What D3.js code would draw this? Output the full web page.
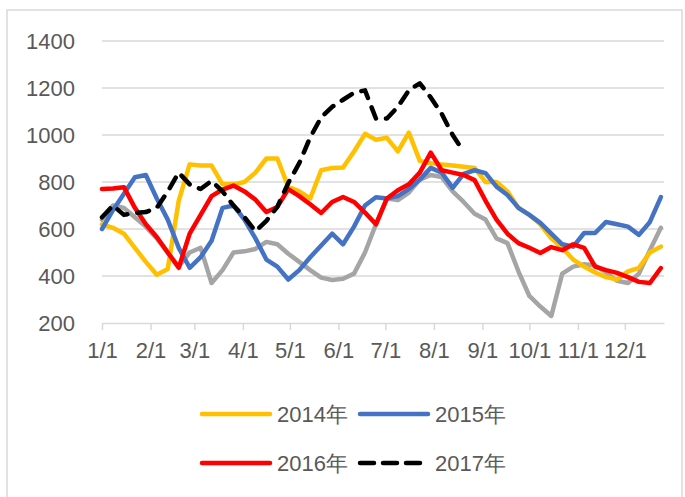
<!DOCTYPE html>
<html>
<head>
<meta charset="utf-8">
<script src="https://cdn.jsdelivr.net/npm/d3@7/dist/d3.min.js"></script>
<style>
  html, body { margin: 0; padding: 0; background: #fff; }
  svg { display: block; }
  text { font-family: "Liberation Sans", Arial, sans-serif; fill: #595959; }
</style>
</head>
<body>
<svg id="chart" width="685" height="497"></svg>
<script>
// ---- data (weekly observations) ----
const weeks = ["01-01","01-08","01-15","01-22","01-29","02-05","02-12","02-19","02-26",
  "03-05","03-12","03-19","03-26","04-02","04-09","04-16","04-23","04-30",
  "05-07","05-14","05-21","05-28","06-04","06-11","06-18","06-25",
  "07-02","07-09","07-16","07-23","07-30","08-06","08-13","08-20","08-27",
  "09-03","09-10","09-17","09-24","10-01","10-08","10-15","10-22","10-29",
  "11-05","11-12","11-19","11-26","12-03","12-10","12-17","12-24"];

const tickLabels = ["1/1","2/1","3/1","4/1","5/1","6/1","7/1","8/1","9/1","10/1","11/1","12/1"];
const yTicks = [200, 400, 600, 800, 1000, 1200, 1400];

const seriesNames = ["2014年", "2015年", "2016年", "2017年"];

const values2014 = [620,605,580,520,460,405,430,720,875,870,870,790,790,800,840,900,900,780,760,730,
  850,860,862,930,1005,980,988,930,1010,890,880,875,870,865,860,800,800,760,690,660,
  620,560,520,470,440,415,395,385,420,435,500,525];

const values2015 = [600,680,750,820,830,730,640,520,435,480,550,690,700,640,560,470,440,385,425,480,
  530,580,535,610,700,735,730,740,770,810,860,840,775,835,850,838,780,745,690,660,
  626,580,535,525,583,583,630,620,610,575,630,736];

const values2016 = [770,772,778,690,620,566,500,435,580,660,740,768,785,760,725,672,694,770,740,705,
  668,715,736,715,670,620,730,765,790,840,925,850,840,830,808,720,640,580,540,520,
  498,523,510,535,520,440,425,413,395,375,370,434];

const values2017 = [650,700,660,668,672,690,760,840,790,770,805,760,700,650,590,635,694,796,880,990,
  1075,1120,1150,1180,1190,1070,1070,1120,1190,1220,1160,1090,1000,930];

const valuesGrey = [640,700,690,650,610,560,500,440,500,520,370,425,500,505,515,545,535,495,460,425,
  393,383,388,410,500,620,730,723,755,810,830,821,760,715,665,640,560,540,420,315,
  270,230,410,440,450,445,415,380,370,410,510,605];

// ---- layout ----
const svg = d3.select("#chart");
const parse = d3.timeParse("%Y-%m-%d");
const dates = weeks.map(w => parse("2014-" + w));
const start = parse("2014-01-01");
const end = d3.timeDay.offset(start, 359);

const x = d3.scaleTime().domain([start, end]).range([102, 664]);
const y = d3.scaleLinear().domain([200, 1400]).range([323, 41]);
const FONT = "22px";

// outer frame
svg.append("rect").attr("x", 7).attr("y", 10).attr("width", 675).attr("height", 500)
  .attr("fill", "none").attr("stroke", "#d9d9d9").attr("stroke-width", 1.5);

// gridlines
svg.append("g").selectAll("line").data(yTicks.filter(v => v > 200)).join("line")
  .attr("x1", 102).attr("x2", 664)
  .attr("y1", d => y(d)).attr("y2", d => y(d))
  .attr("stroke", "#d9d9d9").attr("stroke-width", 1.5);

// y axis labels
const yAxis = d3.axisLeft(y).tickValues(yTicks).tickFormat(d3.format("d"))
  .tickSize(0).tickPadding(27);
const gy = svg.append("g").attr("transform", "translate(102,0)").call(yAxis);
gy.select(".domain").remove();
gy.selectAll("text").style("font-size", FONT).attr("fill", "#595959")
  .attr("font-family", "Liberation Sans, Arial, sans-serif");

// x axis
const monthTicks = tickLabels.map(t => { const [m, d] = t.split("/"); return parse(`2014-${m.padStart(2,"0")}-${d.padStart(2,"0")}`); });
const xAxis = d3.axisBottom(x).tickValues(monthTicks)
  .tickFormat((d, i) => tickLabels[i]).tickSize(7).tickPadding(12).tickSizeOuter(0);
const gx = svg.append("g").attr("transform", "translate(0,323)").call(xAxis);
gx.select(".domain").attr("stroke", "#d9d9d9").attr("stroke-width", 1.5);
gx.selectAll(".tick line").attr("stroke", "#d9d9d9").attr("stroke-width", 1.5);
gx.selectAll("text").style("font-size", FONT).attr("fill", "#595959")
  .attr("font-family", "Liberation Sans, Arial, sans-serif");

// lines
const line = d3.line().defined(d => d[1] != null).x(d => x(d[0])).y(d => y(d[1]));
const series = [
  { vals: valuesGrey, color: "#a5a5a5", dash: null },
  { vals: values2014, color: "#ffc000", dash: null },
  { vals: values2015, color: "#4472c4", dash: null },
  { vals: values2016, color: "#ff0000", dash: null },
  { vals: values2017, color: "#000000", dash: "12,10" }
];
series.forEach(s => {
  const pts = s.vals.map((v, i) => [dates[i], v]);
  svg.append("path").datum(pts)
    .attr("d", line)
    .attr("fill", "none")
    .attr("stroke", s.color)
    .attr("stroke-width", 4.5)
    .attr("stroke-linejoin", "round")
    .attr("stroke-linecap", "round")
    .attr("stroke-dasharray", s.dash);
});

// legend
const legend = [
  { name: seriesNames[0], color: "#ffc000", dash: null, lx: 200, ly: 414 },
  { name: seriesNames[1], color: "#4472c4", dash: null, lx: 358, ly: 414 },
  { name: seriesNames[2], color: "#ff0000", dash: null, lx: 200, ly: 463 },
  { name: seriesNames[3], color: "#000000", dash: "14,9", lx: 358, ly: 463 }
];
legend.forEach(l => {
  svg.append("line").attr("x1", l.lx + 2).attr("x2", l.lx + 70)
    .attr("y1", l.ly).attr("y2", l.ly)
    .attr("stroke", l.color).attr("stroke-width", 4.5)
    .attr("stroke-linecap", "round")
    .attr("stroke-dasharray", l.dash);
  svg.append("text").attr("x", l.lx + 77).attr("y", l.ly)
    .attr("dy", "0.35em").style("font-size", FONT).text(l.name);
});
</script>
</body>
</html>
